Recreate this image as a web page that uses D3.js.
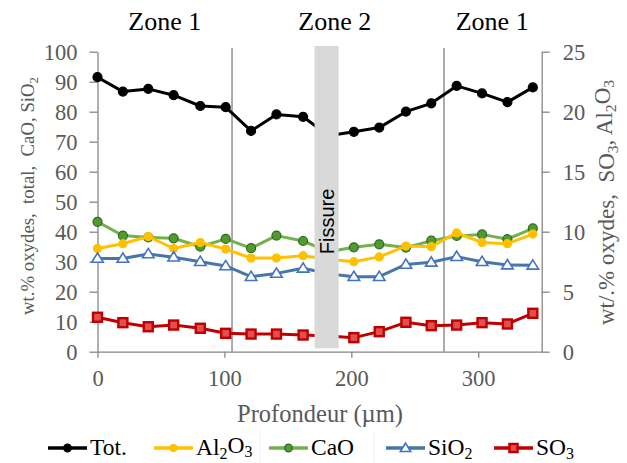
<!DOCTYPE html>
<html><head><meta charset="utf-8">
<script src="https://cdn.jsdelivr.net/npm/d3@7"></script>
<style>
html,body{margin:0;padding:0;background:#fff;}
svg{display:block;}
text{white-space:pre;}
.serif{font-family:"Liberation Serif","Times New Roman",serif !important;}
.sans{font-family:"Liberation Sans",Arial,sans-serif !important;}
</style>
</head><body>
<svg id="chart" width="627" height="463"></svg>
<script>
// ---- data ----
const depths   = [0, 20, 40, 60, 81, 101, 121, 141, 162, 182, 202, 222, 243, 263, 283, 303, 323, 343];
const totVals  = [91.5, 86.7, 87.6, 85.5, 81.9, 81.5, 73.6, 79.1, 78.3, 72.0, 73.3, 74.7, 80.0, 82.8, 88.6, 86.1, 83.2, 88.1];
const caoVals  = [43.3, 38.7, 38.1, 37.8, 35.0, 37.6, 34.5, 38.7, 36.9, 33.3, 34.8, 35.8, 34.7, 37.0, 38.6, 39.1, 37.5, 41.1];
const sio2Vals = [31.1, 31.1, 32.6, 31.5, 30.0, 28.6, 25.0, 26.1, 27.8, 26.0, 25.0, 25.0, 29.1, 29.8, 31.7, 30.0, 28.9, 28.8];
const al2o3Vals= [8.6, 9.0, 9.6, 8.6, 9.1, 8.55, 7.8, 7.8, 8.0, 7.7, 7.5, 7.9, 8.8, 8.75, 9.9, 9.1, 9.0, 9.8];
const so3Vals  = [2.87, 2.42, 2.08, 2.22, 1.95, 1.53, 1.47, 1.47, 1.39, 1.3, 1.17, 1.67, 2.45, 2.17, 2.22, 2.42, 2.31, 3.2];
const xTicks   = [0, 100, 200, 300];
const yLeftTicks  = [0, 10, 20, 30, 40, 50, 60, 70, 80, 90, 100];
const yRightTicks = [0, 5, 10, 15, 20, 25];
const zoneBounds  = [106, 273];
const fissureRange= [171, 190];
const zoneLabels  = ["Zone 1", "Zone 2", "Zone 1"];
const zoneCenters = [53, 187, 311];

const svg = d3.select("#chart");
const x  = d3.scaleLinear().domain([0, 350]).range([97.5, 541.7]);
const yL = d3.scaleLinear().domain([0, 100]).range([351.7, 51.7]);
const yR = d3.scaleLinear().domain([0, 25]).range([351.7, 51.7]);

const axisCol = "#868686", labCol = "#595959";

function rich(sel, str) {
  const parts = str.split(/_(\d)/);
  parts.forEach((p, i) => {
    if (!p) return;
    if (i % 2 === 1) {
      sel.append("tspan").attr("dy", "0.28em").attr("font-size", "0.68em").text(p);
      const next = parts[i + 1];
      if (next) {
        sel.append("tspan").attr("dy", "-0.28em").text(next);
        parts[i + 1] = "";
      }
    } else {
      sel.append("tspan").text(p);
    }
  });
}

// axes
const gx = svg.append("g").attr("transform", `translate(0,${yL(0)})`)
  .call(d3.axisBottom(x).tickValues(xTicks).tickSize(6).tickSizeOuter(0).tickPadding(12));
const gl = svg.append("g").attr("transform", `translate(${x(0)},0)`)
  .call(d3.axisLeft(yL).tickValues(yLeftTicks).tickSize(8).tickSizeOuter(0).tickPadding(12));
const gr = svg.append("g").attr("transform", `translate(${x(350)},0)`)
  .call(d3.axisRight(yR).tickValues(yRightTicks).tickSize(8).tickSizeOuter(0).tickPadding(13));
[gx, gl, gr].forEach(g => {
  g.attr("font-family", null).attr("font-size", null);
  g.selectAll("path.domain").attr("stroke", axisCol).attr("stroke-width", 1.3);
  g.selectAll(".tick line").attr("stroke", axisCol).attr("stroke-width", 1.3);
  g.selectAll(".tick text").attr("class", "serif").attr("fill", labCol).attr("font-size", 22.5);
});
gx.selectAll(".tick text").attr("dy", "0.71em");
gl.selectAll(".tick text").attr("dy", "0.34em");
gr.selectAll(".tick text").attr("dy", "0.34em");

// zone lines
svg.append("g").selectAll("line").data(zoneBounds).join("line")
  .attr("x1", d => x(d)).attr("x2", d => x(d))
  .attr("y1", 48).attr("y2", yL(0))
  .attr("stroke", "#7f7f7f").attr("stroke-width", 1.3);

// series
const series = [
  {name: "Tot.", vals: totVals, y: yL, line: "#000", mk: "circle", fill: "#000", stroke: "#000", r: 4.5},
  {name: "CaO", vals: caoVals, y: yL, line: "#74b04c", mk: "circle", fill: "#4f9a31", stroke: "#2f6a1f", r: 4.5},
  {name: "Al_2O_3", vals: al2o3Vals, y: yR, line: "#ffc000", mk: "circle", fill: "#ffc000", stroke: "#ffc000", r: 4},
  {name: "SiO_2", vals: sio2Vals, y: yL, line: "#4677a6", mk: "tri", fill: "#fff", stroke: "#4472c4", r: 5.5},
  {name: "SO_3", vals: so3Vals, y: yR, line: "#c00000", mk: "sq", fill: "#e05050", stroke: "#c00000", r: 4.5}
];
function marker(g, s, cx, cy, scale) {
  scale = scale || 1;
  if (s.mk === "circle") {
    g.append("circle").attr("cx", cx).attr("cy", cy).attr("r", s.r * scale)
      .attr("fill", s.fill).attr("stroke", s.stroke).attr("stroke-width", 1.2);
  } else if (s.mk === "tri") {
    const r = s.r * scale;
    g.append("path").attr("d", `M${cx},${cy - r}L${cx + r * 1.05},${cy + r * 0.7}L${cx - r * 1.05},${cy + r * 0.7}Z`)
      .attr("fill", s.fill).attr("stroke", s.stroke).attr("stroke-width", 1.6);
  } else {
    const r = s.r * scale;
    g.append("rect").attr("x", cx - r).attr("y", cy - r).attr("width", 2 * r).attr("height", 2 * r)
      .attr("fill", s.fill).attr("stroke", s.stroke).attr("stroke-width", 2.4);
  }
}
series.forEach(s => {
  const pts = depths.map((d, i) => [x(d), s.y(s.vals[i])]);
  svg.append("path").attr("d", d3.line()(pts)).attr("fill", "none")
    .attr("stroke", s.line).attr("stroke-width", 3).attr("stroke-linejoin", "round");
  const g = svg.append("g");
  pts.forEach(p => marker(g, s, p[0], p[1]));
});

// fissure
svg.append("rect").attr("x", x(fissureRange[0])).attr("width", x(fissureRange[1]) - x(fissureRange[0]))
  .attr("y", 46).attr("height", 348.3 - 46).attr("fill", "#d9d9d9");
svg.append("text").attr("class", "sans")
  .attr("transform", `translate(${(x(fissureRange[0]) + x(fissureRange[1])) / 2 + 7},221.5) rotate(-90)`)
  .attr("text-anchor", "middle").attr("font-size", 20).attr("fill", "#000").text("Fissure");

// zone labels
svg.append("g").selectAll("text").data(zoneLabels).join("text").attr("class", "serif")
  .attr("x", (d, i) => x(zoneCenters[i])).attr("y", 30)
  .attr("text-anchor", "middle").attr("font-size", 26).attr("fill", "#000")
  .text(d => d);

// axis titles
svg.append("text").attr("class", "serif").attr("x", 320).attr("y", 421.5).attr("text-anchor", "middle")
  .attr("font-size", 24.5).attr("fill", labCol).text("Profondeur (\u00b5m)");
const tl = svg.append("text").attr("class", "serif").attr("transform", "translate(34,196) rotate(-90)")
  .attr("text-anchor", "middle").attr("font-size", 18.8).attr("fill", labCol);
rich(tl, "wt.% oxydes,  total,  CaO, SiO_2");
const tr = svg.append("text").attr("class", "serif").attr("transform", "translate(614,202.5) rotate(-90)")
  .attr("text-anchor", "middle").attr("font-size", 23).attr("fill", labCol);
rich(tr, "wt/.% oxydes,  SO_3, Al_2O_3");

// legend
const legendItems = [
  {s: series[0], x0: 48}, {s: series[2], x0: 154}, {s: series[1], x0: 269},
  {s: series[3], x0: 386}, {s: series[4], x0: 494}
];
svg.append("g").selectAll("line").data([260, 374]).join("line")
  .attr("x1", d => d).attr("x2", d => d).attr("y1", 430).attr("y2", 463)
  .attr("stroke", "#f0f0f0").attr("stroke-width", 1);
legendItems.forEach(it => {
  const g = svg.append("g");
  g.append("line").attr("x1", it.x0).attr("x2", it.x0 + 39).attr("y1", 448).attr("y2", 448)
    .attr("stroke", it.s.line).attr("stroke-width", 3.5);
  marker(g, it.s, it.x0 + 19.5, 448, it.s.mk === "circle" ? 0.85 : 0.9);
  const t = g.append("text").attr("class", "serif").attr("x", it.x0 + 42).attr("y", 455)
    .attr("font-size", 23.5).attr("fill", "#000");
  rich(t, it.s.name);
});
</script>
</body></html>
